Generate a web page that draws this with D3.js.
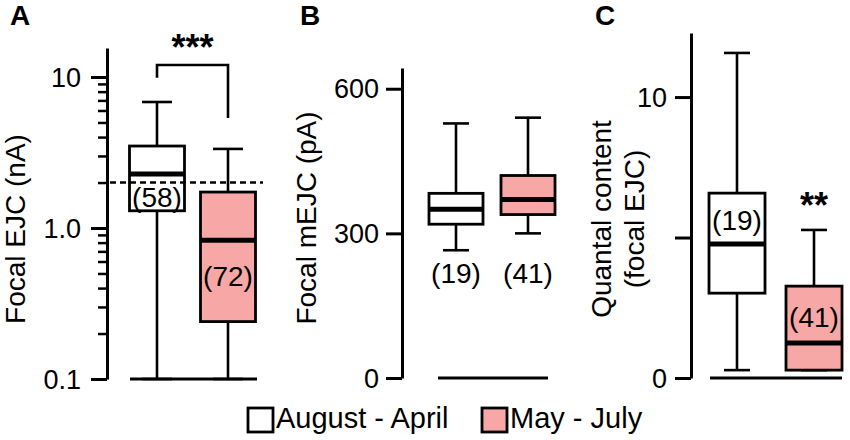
<!DOCTYPE html>
<html><head><meta charset="utf-8">
<script src="https://cdn.jsdelivr.net/npm/d3@7"></script>
<style>
body{margin:0;background:#fff;}
text{font-family:"Liberation Sans",Arial,sans-serif;fill:#000;}
</style></head>
<body><svg id="c" width="850" height="440"></svg>
<script>
// ---- data ----
const groups = ["August - April", "May - July"];
const groupColors = ["#ffffff", "#f7a8a6"];

// Panel A: Focal EJC (nA), log scale
const ejcMin = [0.1, 0.1];
const ejcQ1 = [1.30, 0.24];
const ejcMed = [2.28, 0.83];
const ejcQ3 = [3.49, 1.73];
const ejcMax = [6.83, 3.34];
const ejcN = [58, 72];
const ejcTicks = [0.1, 1, 10];
const ejcTickLabels = ["0.1", "1.0", "10"];
const ejcThreshold = 2;

// Panel B: Focal mEJC (pA)
const mejcMin = [265, 300];
const mejcQ1 = [319, 339];
const mejcMed = [350, 370];
const mejcQ3 = [383, 420];
const mejcMax = [528, 540];
const mejcN = [19, 41];
const mejcTicks = [0, 300, 600];
const mejcTickLabels = ["0", "300", "600"];

// Panel C: Quantal content
const qcMin = [0.28, 0.28];
const qcQ1 = [3.02, 0.28];
const qcMed = [4.77, 1.25];
const qcQ3 = [6.58, 3.27];
const qcMax = [11.57, 5.27];
const qcN = [19, 41];
const qcTicks = [0, 5, 10];
const qcTickLabels = ["0", "", "10"];

// ---- drawing ----
const svg = d3.select("#c");
const FONT = 28;

function boxes(g, x, y, mins, q1, med, q3, max, bw, cw) {
  groups.forEach((grp, i) => {
    const cx = x(grp);
    g.append("line").attr("x1", cx).attr("x2", cx)
      .attr("y1", y(max[i])).attr("y2", y(mins[i]))
      .attr("stroke", "#000").attr("stroke-width", 2.6);
    g.append("line").attr("x1", cx - cw/2).attr("x2", cx + cw/2)
      .attr("y1", y(max[i])).attr("y2", y(max[i]))
      .attr("stroke", "#000").attr("stroke-width", 2.6);
    g.append("line").attr("x1", cx - cw/2).attr("x2", cx + cw/2)
      .attr("y1", y(mins[i])).attr("y2", y(mins[i]))
      .attr("stroke", "#000").attr("stroke-width", 2.6);
    g.append("rect").attr("x", cx - bw/2).attr("width", bw)
      .attr("y", y(q3[i])).attr("height", y(q1[i]) - y(q3[i]))
      .attr("fill", groupColors[i]).attr("stroke", "#000").attr("stroke-width", 2.8);
    g.append("line").attr("x1", cx - bw/2).attr("x2", cx + bw/2)
      .attr("y1", y(med[i])).attr("y2", y(med[i]))
      .attr("stroke", "#000").attr("stroke-width", 5);
  });
}

function yAxis(g, y, ax, tickVals, tickLabels, pad) {
  const a = g.append("g").attr("transform", `translate(${ax},0)`)
    .call(d3.axisLeft(y).tickValues(tickVals).tickSize(16).tickSizeOuter(0).tickPadding(pad)
      .tickFormat((d, i) => tickLabels[i]));
  a.select(".domain").attr("stroke-width", 3);
  a.selectAll(".tick line").attr("stroke-width", 3);
  a.selectAll(".tick text").style("font-size", "27px").attr("dy", "0.34em");
  return a;
}

function baseline(g, y, v, x0, x1) {
  g.append("line").attr("x1", x0).attr("x2", x1).attr("y1", y(v)).attr("y2", y(v))
    .attr("stroke", "#000").attr("stroke-width", 2.8);
}

function yTitle(g, lines, cx, cy) {
  lines.forEach((t, i) => {
    g.append("text").attr("transform", `translate(${cx + i*33},${cy}) rotate(-90)`)
      .attr("text-anchor", "middle").style("font-size", FONT + "px").text(t);
  });
}

function panelLabel(t, x) {
  svg.append("text").attr("x", x).attr("y", 25).style("font-size", "28px")
    .style("font-weight", "bold").text(t);
}

// Panel A
{
  const g = svg.append("g");
  const y = d3.scaleLog().domain([0.1, 15.56]).range([379, 48]);
  const x = d3.scalePoint().domain(groups).range([157, 228]);
  yAxis(g, y, 107, ejcTicks, ejcTickLabels, 10);
  const minor = [];
  [0.1, 1].forEach(d => { for (let k = 2; k <= 9; k++) minor.push(d * k); });
  const m = g.append("g").attr("transform", "translate(107,0)")
    .call(d3.axisLeft(y).tickValues(minor).tickSize(9).tickSizeOuter(0).tickFormat(""));
  m.select(".domain").remove();
  m.selectAll(".tick line").attr("stroke-width", 2.5);
  baseline(g, y, 0.1, 130, 257);
  boxes(g, x, y, ejcMin, ejcQ1, ejcMed, ejcQ3, ejcMax, 55, 30);
  g.append("line").attr("x1", 110).attr("x2", 263)
    .attr("y1", y(ejcThreshold)).attr("y2", y(ejcThreshold))
    .attr("stroke", "#000").attr("stroke-width", 2.5).attr("stroke-dasharray", "6,4");
  g.append("path")
    .attr("d", `M${x(groups[0])},${y(9.9)}V${y(12)}H${x(groups[1])}V${y(5.35)}`)
    .attr("fill", "none").attr("stroke", "#000").attr("stroke-width", 2.6);
  g.append("text").attr("x", (x(groups[0]) + x(groups[1])) / 2).attr("y", 60)
    .attr("text-anchor", "middle").style("font-size", "36px").style("font-weight", "bold").text("***");
  g.append("text").attr("x", x(groups[0])).attr("y", y(ejcQ1[0]) - 4)
    .attr("text-anchor", "middle").style("font-size", FONT + "px").text(`(${ejcN[0]})`);
  g.append("text").attr("x", x(groups[1])).attr("y", (y(ejcMed[1]) + y(ejcQ1[1])) / 2 + 5)
    .attr("text-anchor", "middle").style("font-size", FONT + "px").text(`(${ejcN[1]})`);
  yTitle(g, ["Focal EJC (nA)"], 25, 229);
  panelLabel("A", 10);
}

// Panel B
{
  const g = svg.append("g");
  const y = d3.scaleLinear().domain([0, 643]).range([378, 68]);
  const x = d3.scalePoint().domain(groups).range([456, 528]);
  yAxis(g, y, 402, mejcTicks, mejcTickLabels, 7);
  baseline(g, y, 0, 438, 548);
  boxes(g, x, y, mejcMin, mejcQ1, mejcMed, mejcQ3, mejcMax, 54, 26);
  groups.forEach((grp, i) => {
    g.append("text").attr("x", x(grp)).attr("y", 283)
      .attr("text-anchor", "middle").style("font-size", FONT + "px").text(`(${mejcN[i]})`);
  });
  yTitle(g, ["Focal mEJC (pA)"], 316, 218);
  panelLabel("B", 300);
}

// Panel C
{
  const g = svg.append("g");
  const y = d3.scaleLinear().domain([0, 12.28]).range([378, 33]);
  const x = d3.scalePoint().domain(groups).range([737, 814]);
  yAxis(g, y, 691, qcTicks, qcTickLabels, 8);
  baseline(g, y, 0, 710, 842);
  boxes(g, x, y, qcMin, qcQ1, qcMed, qcQ3, qcMax, 56, 26);
  g.append("text").attr("x", x(groups[0])).attr("y", 230)
    .attr("text-anchor", "middle").style("font-size", FONT + "px").text(`(${qcN[0]})`);
  g.append("text").attr("x", x(groups[1])).attr("y", 327)
    .attr("text-anchor", "middle").style("font-size", FONT + "px").text(`(${qcN[1]})`);
  g.append("text").attr("x", x(groups[1])).attr("y", 218)
    .attr("text-anchor", "middle").style("font-size", "36px").style("font-weight", "bold").text("**");
  yTitle(g, ["Quantal content", "(focal EJC)"], 611, 219);
  panelLabel("C", 595);
}

// Legend
{
  const lx = [248, 482];
  groups.forEach((grp, i) => {
    svg.append("rect").attr("x", lx[i]).attr("y", 408).attr("width", 25).attr("height", 24)
      .attr("fill", groupColors[i]).attr("stroke", "#000").attr("stroke-width", 2.8);
    svg.append("text").attr("x", lx[i] + 28).attr("y", 428).style("font-size", "29px").text(grp);
  });
}
</script></body></html>
